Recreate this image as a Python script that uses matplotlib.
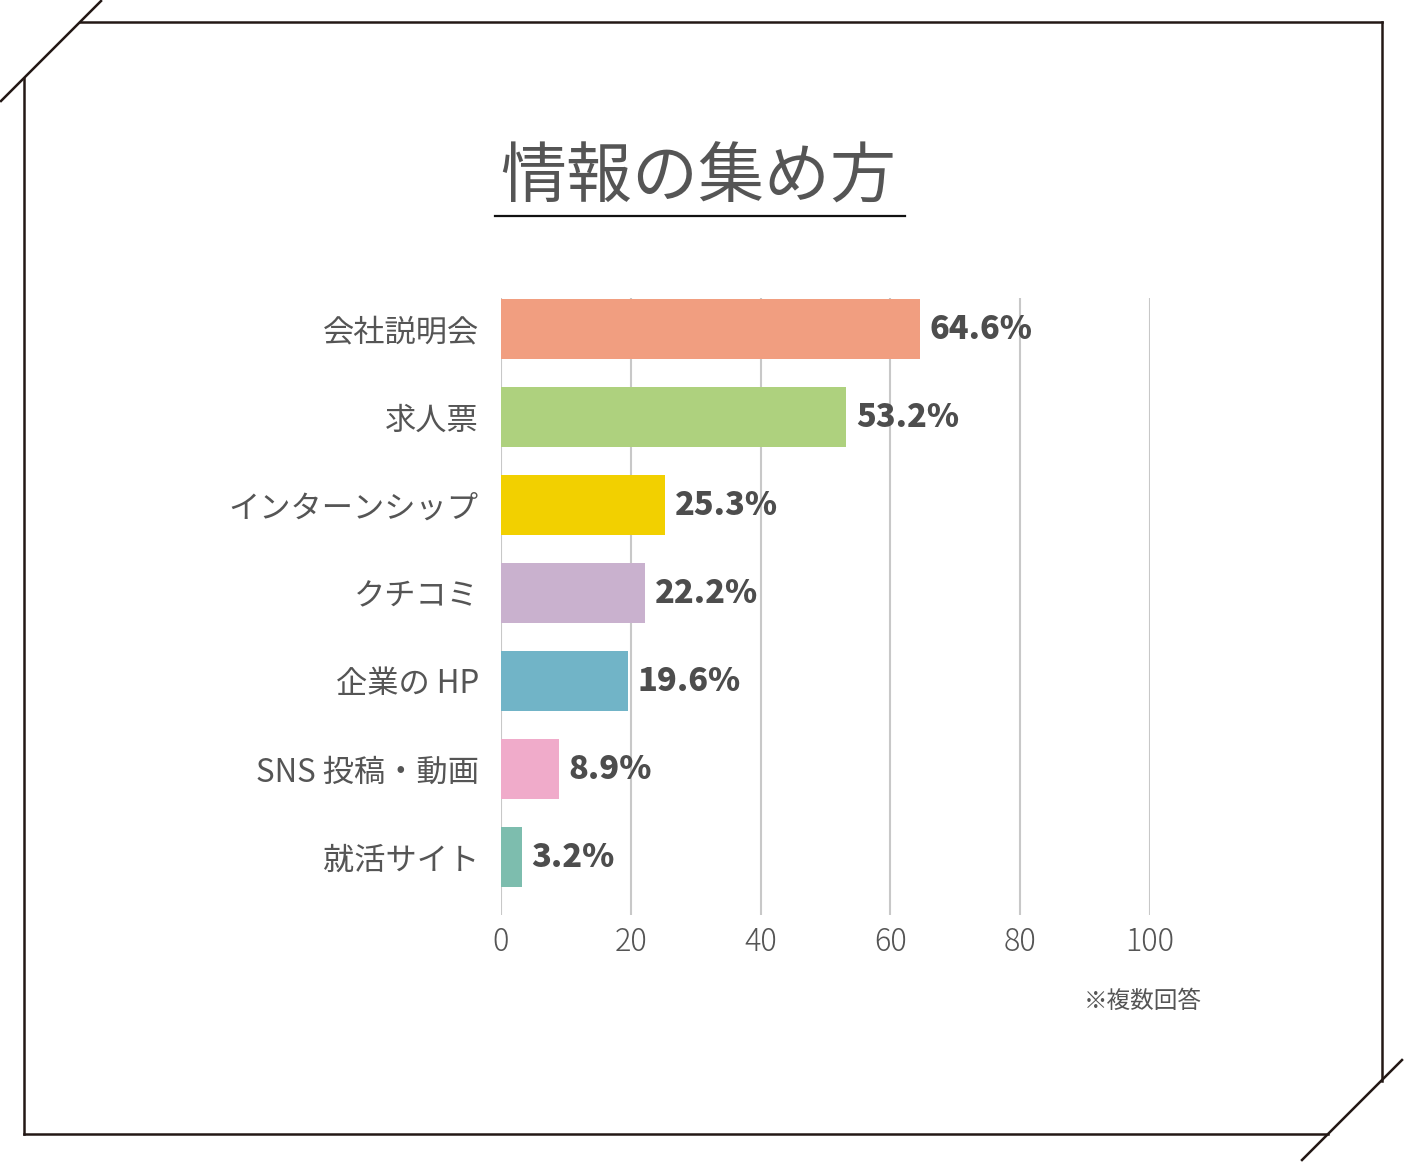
import matplotlib.pyplot as plt
from matplotlib.lines import Line2D

plt.rcParams['font.family'] = ['Noto Sans CJK JP', 'DejaVu Sans']

categories = ["会社説明会", "求人票", "インターンシップ", "クチコミ", "企業の HP", "SNS 投稿・動画", "就活サイト"]
values = [64.6, 53.2, 25.3, 22.2, 19.6, 8.9, 3.2]
colors = ["#F19E80", "#AED17E", "#F2D000", "#C9B1CE", "#71B4C7", "#F0ABCA", "#7DBDAE"]
xticks = [0, 20, 40, 60, 80, 100]

W, H = 1404, 1162
fig = plt.figure(figsize=(W / 100, H / 100), dpi=100)

# cadre avec coins coupés (coordonnées en pixels)
bg = fig.add_axes([0, 0, 1, 1])
bg.set_xlim(0, W)
bg.set_ylim(H, 0)
bg.axis('off')
ink = '#231815'
lw = 1.8
bg.add_line(Line2D([80, 1382], [22, 22], color=ink, lw=lw))
bg.add_line(Line2D([1382, 1382], [22, 1081], color=ink, lw=lw))
bg.add_line(Line2D([24, 24], [78, 1134], color=ink, lw=lw))
bg.add_line(Line2D([24, 1328], [1134, 1134], color=ink, lw=lw))
bg.add_line(Line2D([1, 101], [101, 1], color=ink, lw=lw))
bg.add_line(Line2D([1302, 1402], [1160, 1060], color=ink, lw=lw))

# titre souligné
bg.text(698, 179, "情報の集め方", fontsize=47.5, color='#555555', ha='center', va='center')
bg.add_line(Line2D([495, 905], [216, 216], color='#111111', lw=1.6))
bg.text(1143, 1001, "※複数回答", fontsize=17, color='#555555', ha='center', va='center')

# graphique
left, right, top, bottom = 501, 1150, 298, 915
ax = fig.add_axes([left / W, (H - bottom) / H, (right - left) / W, (bottom - top) / H])
y = list(range(len(categories)))
ax.barh(y, values, height=0.68, color=colors, zorder=3)
ax.set_xlim(0, 100)
ax.set_ylim(6.66, -0.35)
for s in ax.spines.values():
    s.set_visible(False)
ax.set_xticks(xticks)
ax.set_xticklabels([str(t) for t in xticks], fontsize=22, color='#555555', fontweight='light')
ax.set_yticks(y)
ax.set_yticklabels(categories, fontsize=22.5, color='#555555')
ax.tick_params(axis='both', length=0)
ax.tick_params(axis='x', pad=8)
ax.tick_params(axis='y', pad=16)
ax.grid(axis='x', color='#C8C8C8', lw=1.5, zorder=0)

for i, v in enumerate(values):
    ax.annotate(f"{v}%", (v, i), xytext=(7, 0), textcoords='offset points',
                ha='left', va='center', fontsize=23.5, fontweight='heavy', color='#4D4D4D')

fig.savefig('out.png', dpi=100)
